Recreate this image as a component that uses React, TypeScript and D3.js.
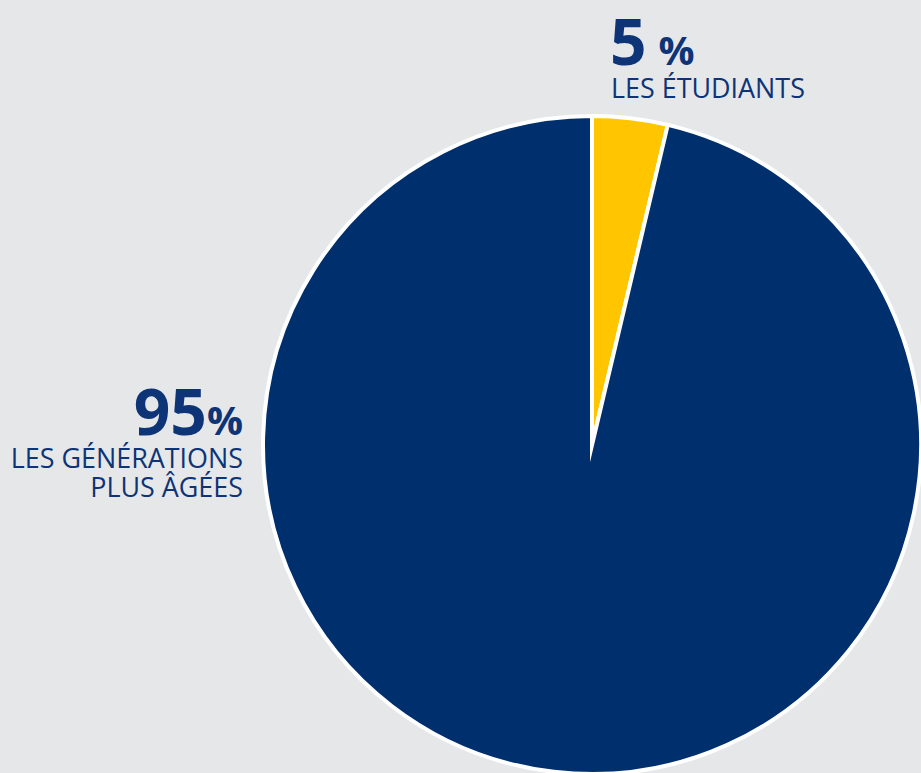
import React from "react";
import * as d3 from "d3";

const categories = ["Les étudiants", "Les générations plus âgées"];
const sliceShares = [3.7, 96.3];
const labelValues = ["5", "95"];
const labelLines = [["LES ÉTUDIANTS"], ["LES GÉNÉRATIONS", "PLUS ÂGÉES"]];
const colors = ["#ffc600", "#002f6e"];

const W = 921;
const H = 773;
const cx = 592;
const cy = 445;
const R = 329;
const TEXT = "#0c3477";

export default function App() {
  const pie = d3
    .pie<number>()
    .sort(null)
    .value((d) => d);
  const arcs = pie(sliceShares);
  const arc = d3.arc<d3.PieArcDatum<number>>().innerRadius(0).outerRadius(R);

  return (
    <svg
      width={W}
      height={H}
      style={{ position: "absolute", left: 0, top: 0, display: "block" }}
      fontFamily="'Open Sans', 'Noto Sans', sans-serif"
    >
      <rect x={0} y={0} width={W} height={H} fill="#e6e7e8" />
      <g transform={`translate(${cx},${cy})`}>
        {arcs.map((a, i) => (
          <path
            key={categories[i]}
            d={arc(a) || ""}
            fill={colors[i]}
            stroke="#ffffff"
            strokeWidth={4}
            strokeLinejoin="miter"
            strokeMiterlimit={20}
          />
        ))}
      </g>
      {/* Label: students */}
      <text x={610} y={65} fill={TEXT} fontWeight={700}>
        <tspan fontSize={64}>{labelValues[0]}</tspan>
        <tspan fontSize={40} dx={12}>%</tspan>
      </text>
      {labelLines[0].map((l, j) => (
        <text key={l} x={611} y={98 + j * 29} fill={TEXT} fontSize={26.9}>
          {l}
        </text>
      ))}
      {/* Label: older generations */}
      <text x={243} y={435} fill={TEXT} fontWeight={700} textAnchor="end">
        <tspan fontSize={64}>{labelValues[1]}</tspan>
        <tspan fontSize={40}>%</tspan>
      </text>
      {labelLines[1].map((l, j) => (
        <text
          key={l}
          x={243}
          y={468 + j * 29}
          fill={TEXT}
          fontSize={26.9}
          textAnchor="end"
        >
          {l}
        </text>
      ))}
    </svg>
  );
}
